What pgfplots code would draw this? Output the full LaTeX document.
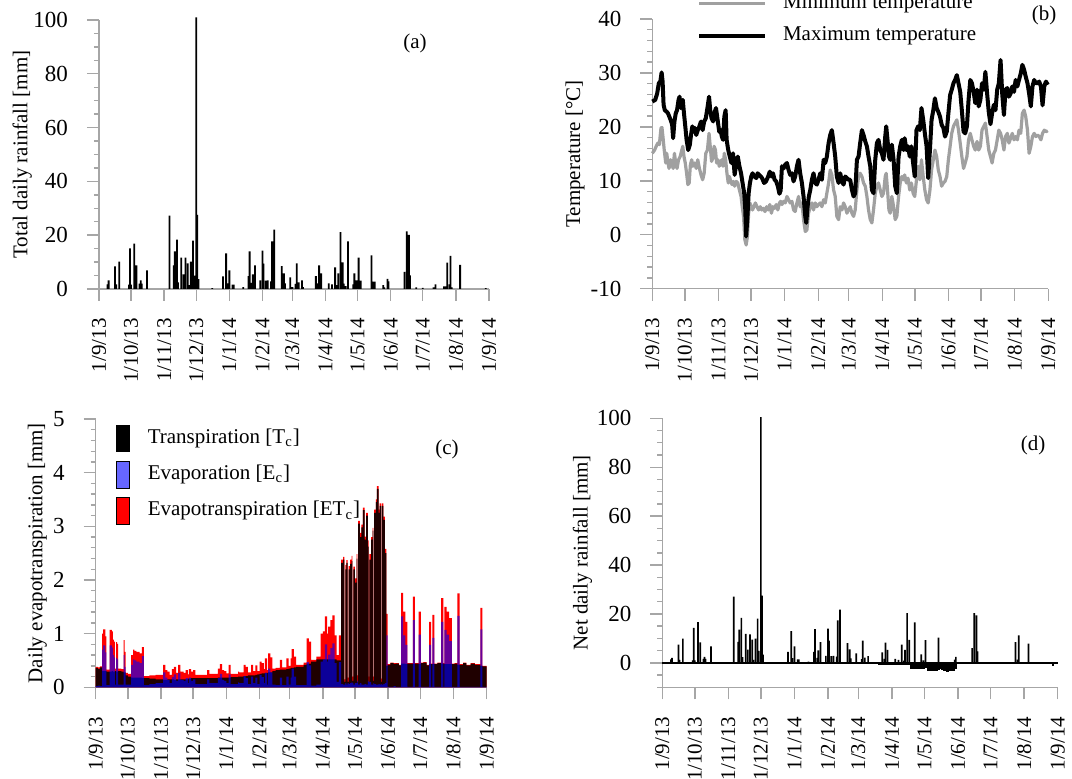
\documentclass[border=0pt]{standalone}
\usepackage{pgfplots}
\pgfplotsset{compat=1.18}
\usepackage{pgfplotstable}
\usepackage{fontspec}
\setmainfont{Liberation Serif}
\definecolor{axgray}{RGB}{166,166,166}
\definecolor{mingray}{RGB}{160,160,160}
\newcommand{\fs}{\fontsize{10.5}{12.6}\selectfont}
\newcommand{\fsb}{\fontsize{11.5}{13.8}\selectfont}

\pgfplotstableread{
d T E ET
0 .36 .02 .38
2 .34 .03 .37
4 .37 .02 .39
6 .30 .70 1.00
7 .30 .78 1.08
9 .30 .65 .95
10 .29 .04 .33
12 .29 .04 .33
13 .29 .78 1.07
15 .30 .74 1.04
16 .29 .60 .89
17 .29 .56 .85
18 .30 .05 .35
19 .29 .55 .84
20 .29 .52 .81
21 .30 .05 .35
24 .29 .05 .34
26 .28 .60 .88
27 .28 .38 .66
28 .22 .05 .27
30 .20 .05 .25
33 .18 .42 .60
35 .18 .52 .70
36 .18 .50 .68
38 .18 .48 .66
41 .18 .45 .63
43 .17 .58 .75
45 .17 .04 .21
50 .16 .06 .22
56 .15 .08 .23
63 .14 .28 .42
65 .14 .18 .32
67 .15 .14 .29
69 .15 .08 .23
71 .15 .19 .34
73 .14 .24 .38
75 .15 .12 .27
77 .15 .27 .42
79 .15 .14 .29
82 .15 .12 .27
84 .15 .17 .32
86 .16 .08 .24
87 .16 .18 .34
89 .17 .12 .29
91 .17 .15 .32
93 .17 .06 .23
104 .17 .15 .32
106 .17 .08 .25
114 .18 .17 .35
116 .18 .25 .43
118 .18 .14 .32
120 .18 .12 .30
122 .18 .08 .26
124 .18 .24 .42
126 .19 .06 .25
133 .20 .09 .29
134 .20 .08 .28
138 .21 .21 .42
140 .21 .17 .38
142 .22 .06 .28
145 .22 .20 .42
147 .22 .08 .30
149 .23 .18 .41
151 .24 .06 .30
153 .25 .23 .48
155 .26 .19 .45
157 .26 .08 .34
158 .27 .27 .54
160 .27 .05 .32
161 .28 .35 .63
163 .28 .28 .56
165 .30 .05 .35
168 .32 .04 .36
172 .33 .18 .51
174 .33 .04 .37
178 .34 .20 .54
180 .35 .05 .40
182 .36 .18 .54
183 .36 .35 .71
185 .37 .20 .57
187 .38 .04 .42
194 .42 .04 .46
197 .44 .47 .91
199 .44 .41 .85
201 .48 .03 .51
206 .52 .05 .57
210 .52 .48 1.00
212 .52 .52 1.04
214 .52 .80 1.32
216 .52 .48 1.00
217 .52 .61 1.13
219 .52 .73 1.25
221 .52 .82 1.34
223 .52 .45 .97
225 .50 .10 .60
227 .50 .47 .97
229 2.32 .06 2.38
231 2.38 .05 2.43
232.2 .10 .05 .15
233 2.20 .08 2.28
234 2.32 .05 2.37
235.2 .10 .08 .18
236 2.20 .06 2.26
237.5 2.30 .08 2.38
239 2.35 .10 2.45
239.7 .12 .08 .20
240.5 2.20 .05 2.25
242 1.95 .08 2.03
243.5 2.40 .08 2.48
244.2 .10 .12 .22
245 3.05 .05 3.10
246.5 2.80 .08 2.88
248 2.98 .05 3.03
249.5 3.30 .05 3.35
251 2.75 .06 2.81
252.5 3.20 .05 3.25
254 2.62 .12 2.74
254.7 .10 .10 .20
255.5 2.38 .10 2.48
257 2.75 .05 2.80
258.5 2.92 .05 2.97
259.2 .12 .08 .20
260 3.25 .06 3.31
261.5 3.45 .05 3.50
262.5 3.70 .05 3.75
264 3.25 .06 3.31
265 3.38 .05 3.43
266.2 .10 .06 .16
267 3.38 .05 3.43
268.5 3.12 .06 3.18
270 2.50 .08 2.58
271.3 .40 .97 1.37
272.5 .42 .01 .43
275 .45 .01 .46
278 .43 .02 .45
280 .44 .01 .45
283 .41 .01 .42
285 .44 1.32 1.76
287 .44 .97 1.41
289 .43 .79 1.22
291 .44 .01 .45
296 .44 1.25 1.69
298 .44 .01 .45
301.5 .43 .98 1.41
303.5 .45 .01 .46
306 .46 .01 .47
309 .41 .01 .42
311.3 .43 .79 1.22
313.2 .43 .01 .44
314.3 .43 .92 1.35
316.2 .43 .01 .44
319 .45 .01 .46
322.5 .44 1.22 1.66
324.5 .44 .01 .45
325.5 .43 1.07 1.50
327.7 .43 .98 1.41
330 .43 .86 1.29
332.5 .43 .01 .44
335 .44 .01 .45
337.7 .42 1.33 1.75
339.8 .42 .01 .43
343 .45 .01 .46
346 .41 .01 .42
350 .44 .01 .45
354 .42 .01 .43
359 .40 1.08 1.48
361 .39 .01 .40
365 .38 .01 .39
}\etdata

\pgfplotsset{
 panel/.style={
  scale only axis, anchor=south west,
  axis lines=left,
  axis line style={axgray, line width=0.7pt, -},
  tick style={axgray, line width=0.7pt},
  tick align=outside,
  major tick length=6pt, minor tick length=2.5pt,
  xmin=0, xmax=365,
  xtick={0,30,61,91,122,153,181,212,242,273,303,334,365},
  xticklabels={1/9/13,1/10/13,1/11/13,1/12/13,1/1/14,1/2/14,1/3/14,1/4/14,1/5/14,1/6/14,1/7/14,1/8/14,1/9/14},
  xticklabel style={yshift=-8.5pt, rotate=90, anchor=east, inner sep=0pt, font=\fs},
  yticklabel style={xshift=-9.3pt, anchor=east, inner sep=0pt, font=\fsb},
  /pgf/number format/assume math mode=true,
  label style={font=\fs},
  ylabel style={anchor=center},
  clip=false,
 }
}

\begin{document}
\begin{tikzpicture}
% ---------------- (a)
\begin{axis}[panel, at={(49.5pt,244.5pt)}, width=195pt, height=134.5pt,
  ymin=0, ymax=100, ytick={0,20,...,100}, minor ytick={0,5,...,100},
  ylabel={Total daily rainfall [mm]},
  ylabel style={at={(axis description cs:-0.197,0.5)}}]
\addplot[ybar, bar width=1.7, fill=black, draw=none] coordinates {
(8,1.7) (9,3.2) (15,8.4) (16,1.7) (19,10.2) (28,1.6) (29,15.1) (30,1.6)
(33,16.9) (35,8.8) (38,2.0) (39,3.2) (40,2.0) (45,6.9) (66,27.3) (70,8.8)
(71,14.0) (73,18.4) (74,2.5) (77,11.7) (79,5.4) (81,11.7) (83,9.5) (84,1.4)
(86,10.2) (88,18.0) (89,5.0) (91,101) (92,27.6) (93,3.7) (106,0.3) (116,4.7)
(119,13.2) (120,2.1) (122,6.9) (125,1.6) (126,1.6) (135,0.7) (140,4.8) (141,14.0)
(143,2.3) (144,5.4) (146,8.8) (151,3.2) (153,14.3) (154,9.4) (156,3.1) (158,3.2)
(161,2.8) (162,17.7) (164,22.1) (171,8.5) (173,5.8) (174,2.1) (179,4.3) (181,0.7)
(184,1.9) (185,9.5) (187,2.5) (190,3.2) (191,0.7) (203,4.8) (205,2.1) (206,8.8)
(208,5.8) (215,2.1) (218,1.7) (221,8.0) (223,1.4) (224,5.8) (226,21.1) (228,9.9)
(229,2.0) (231,1.1) (233,17.7) (238,1.7) (239,5.8) (241,3.2) (243,11.7) (245,3.1)
(255,12.5) (257,2.7) (258,2.7) (266,1.4) (267,0.6) (270,3.8) (271,2.8) (286,6.4)
(288,21.4) (290,20.1) (291,5.1) (297,0.6) (303,0.4) (313,0.6) (315,1.7) (323,1.0)
(324,1.0) (326,9.8) (328,1.7) (329,12.3) (330,0.6) (338,9.0) (362,0.3)
};
\end{axis}
% ---------------- (b)
\begin{axis}[panel, at={(326.15pt,244.65pt)}, width=198pt, height=134.85pt,
  ymin=-10, ymax=40, ytick={-10,0,...,40}, minor ytick={-10,-8,...,40},
  ylabel={Temperature [°C]},
  ylabel style={at={(axis description cs:-0.195,0.5)}},
  legend image code/.code={\draw[#1] (0pt,0pt) -- (33pt,0pt);},
  legend style={draw=none, fill=none, at={(axis description cs:0.113,1.092)}, anchor=north west,
    inner sep=0pt, outer sep=0pt, row sep=7.2pt, column sep=8pt,
    nodes={inner sep=0pt, text height=7pt, text depth=2pt, font=\fs}},
  legend cell align=left]
\addplot[mingray, line width=1.6pt, line join=round] coordinates {
(0,15.1) (2.1,15.7) (3.6,16.4) (5.1,17) (6.5,16.7) (8,19.8) (8.9,19.9) (9.8,18.2) (11,15.7) (12.4,13.3)
(13.3,15.1) (14.5,13.3) (15.4,12.3) (16.9,13.9) (18.3,13) (19.2,12.3) (20.4,15.1) (21.6,13.3) (22.8,12.3)
(24.2,13.9) (25.7,14.5) (27.2,15.7) (28.1,16.4) (29.2,14.5) (30.4,13.3) (31.6,11.4) (32.8,9.3) (34,9.6)
(35.1,13) (36.3,13.9) (37.5,12.7) (39,13.3) (40.5,12.3) (41.9,13.9) (43.4,12.3) (44.9,11.1) (46.4,10.2)
(47.8,11.4) (49.3,15.1) (50.8,15.7) (52.3,18.8) (53.4,16.4) (54.6,13.6) (55.8,14.2) (57,16.4) (58.2,15.7)
(59.3,13.3) (60.5,13.9) (61.7,12.7) (62.9,13.3) (64.1,13.9) (65.2,12.7) (66.4,15.1) (67.6,13.9) (68.8,11.4)
(70,9.6) (71.1,10.8) (72.3,9.9) (73.5,9.3) (74.7,9.9) (75.9,9) (77.3,9.9) (78.8,9.6) (80.3,8.3) (81.8,7.1)
(82.9,5.2) (84.1,3.4) (85.3,-0.9) (86.5,-1.9) (87.7,-0.3) (88.8,4) (90,5.9) (91.2,5.2) (92.4,4.6) (93.6,5.2)
(95,5.9) (96.5,5.2) (98,4.6) (99.5,5.2) (100.9,4.6) (102.4,4.9) (103.9,4.3) (105.4,5.2) (106.8,4.6)
(108.3,5.6) (109.8,4) (111.2,5.2) (112.7,4.9) (114.2,5.6) (115.7,4.6) (117.2,5.9) (118.3,6.2)
(119.5,5.6) (121,6.2) (122.5,5.9) (124.1,7.1) (125.6,6.5) (127.1,5.9) (128.7,6.2) (130.2,4.6) (131.7,4.3)
(133.3,5.9) (134.8,7.1) (136.3,5.2) (137.9,5.9) (139.4,2.8) (141,0.6) (142.5,0.9) (144,4) (145.6,5.2)
(147.1,5.9) (148.6,4.6) (150.2,5.9) (151.7,5.2) (153.2,5.6) (154.8,5.9) (156.3,5.2) (157.9,6.5) (159.4,5.9)
(160.9,7.7) (162.5,9.6) (164,12) (165.5,11.1) (167.1,8.3) (168.6,7.1) (170.1,3.4) (171.7,2.8) (173.2,5.2)
(174.8,4.6) (176.3,5.9) (177.8,5.2) (179.4,4) (180.9,4.6) (182.4,5.2) (184,4) (185.5,3.4) (187,4.6)
(188.6,8.3) (190.1,10.8) (191.6,11.4) (193.2,10.8) (194.7,9.6) (196.3,9) (197.8,7.1) (199.3,4.6) (200.9,2.8)
(202.4,2.2) (203.9,4.6) (205.5,7.7) (207,9) (208.5,9.6) (210.1,8.3) (211.6,7.1) (213.1,7.7) (214.7,10.8)
(215.6,11.4) (216.8,8.3) (218.1,4.6) (219.3,4) (220.8,7.1) (222.4,5.2) (223.9,2.8) (225.4,3.4) (227,7.1)
(228.5,9.6) (230,10.8) (231.6,10.2)
(232.6,11.1) (234.2,9.6) (235.7,10.5) (237.3,8.3) (238.8,9.6) (240.4,7.7) (241.9,7.1) (243.5,10.2) (245,12.7)
(246.6,10.2) (248.1,13.9) (249.7,10.8) (251.2,8.3) (252.8,6.5) (254.3,5.9) (255.9,8.3) (257.4,12) (259,13.9)
(260.5,15.7) (262.1,14.5) (263.6,12) (265.2,10.8) (266.7,9) (268.3,9.6) (269.8,9.9) (271.4,10.8) (272.9,13.9)
(274.5,16.4) (276,18.8) (277.6,20.1) (279.1,20.7) (280.7,21.3) (282.2,19.4) (283.8,17) (285.3,14.5) (286.9,12.3)
(288.4,13.3) (290,14.5) (291.5,17.6) (293.1,18.8) (294.6,17.6) (296.2,16.4) (297.7,15.7) (299.3,17.3)
(300.8,15.7) (302.4,16.4) (303.9,19.4) (305.5,20.1) (307,20.7) (308.6,18.2) (310.1,15.7) (311.7,14.5)
(313.2,13.3) (314.8,15.1) (316.3,15.7) (317.9,17.6) (319.4,19.4) (321,18.8) (322.5,17.6) (324.1,15.7)
(325.6,18.2) (327.2,18.8) (328.7,17) (330.3,17.9) (331.8,18.8) (333.4,17.6) (334.9,18.2) (336.5,17.6)
(338,19.4) (339.6,18.8) (341.1,22.5) (342.7,23.1) (344.2,21.9) (345.8,19.4) (347.3,15.1) (348.9,16.4)
(350.4,18.2) (352,18.8) (353.5,18.2) (355.1,18.5) (356.6,18.2) (358.2,17.6) (359.7,18.8) (361.3,19.4)
(362.8,19.1) (364.5,19.3)
};
\addlegendentry{Minimum temperature}
\addplot[black, line width=2pt, line join=round] coordinates {
(0,24.7) (2.7,25) (4.5,26.2) (6,28.1) (7.4,28.4) (8.6,30.1) (9.5,28.4) (10.4,24.1) (11.5,23.1) (13.3,22.8)
(14.5,22.5) (15.7,21.9) (16.9,21.3) (18.3,20.4) (19.2,17.9) (20.4,21) (21.6,22.5) (22.8,23.1) (24.2,25)
(25.1,25.6) (26.3,23.5) (27.2,24.1) (28.1,25) (29.2,22.5) (30.4,20.1) (31.6,17.6) (33.1,15.7) (34.6,16.7)
(35.7,18.5) (36.9,20.1) (38.1,19.1) (39.3,19.8) (40.5,18.5) (41.9,19.4) (43.4,20.1) (44.9,21) (46.4,19.4)
(47.8,21) (49.3,21.6) (50.8,23.5) (52.3,25.6) (53.4,23.1) (54.6,21.6) (56.1,21) (57.6,22.8) (58.7,23.5)
(60.2,21.3) (61.7,19.1) (62.9,19.4) (64.1,18.2) (65.2,17.6) (66.4,21.9) (67.6,23.1) (68.5,17.6) (70,15.7)
(71.4,14.5) (72.9,13.3) (74.4,15.1) (75.9,11.1) (77.3,13) (78.8,14.5) (80.3,12.7) (81.8,11.4) (83.2,9.6)
(84.7,7.7) (85.6,5.2) (86.5,-0.3) (87.7,3.4) (88.8,7.7) (90,9.6) (91.2,10.8) (92.4,11.4) (94.1,10.8)
(95.9,10.5) (97.1,11.4) (98.6,11.1) (100,10.8) (101.2,10.5) (103,9.6) (104.8,9.9) (106.8,10.8) (108.3,11.7)
(109.8,10.8) (111.2,11.4) (112.7,10.2) (114.2,9.9) (115.7,9) (117.2,7.6) (118.3,8.2)
(119.5,12.7) (121,12.3) (122.5,13) (124.1,13.3) (125.6,12) (127.1,11.1) (128.7,11.4) (130.2,9.9) (131.7,10.8)
(133.3,12.7) (134.8,13.9) (136.3,11.4) (137.9,9.6) (139.4,7.1) (141,3.4) (141.9,2.2) (143.1,5.2) (144.3,7.1)
(145.6,8.3) (147.1,10.2) (148.6,11.4) (150.2,9.6) (151.7,9.3) (153.2,10.2) (154.8,11.4) (156.3,10.2)
(157.9,13.9) (159.4,13.3) (160.9,14.5) (162.5,17) (164,18.5) (165.5,19.4) (167.1,17) (168.6,14.5) (170.1,10.8)
(171.7,9.6) (173.2,11.4) (174.8,9.9) (176.3,9.3) (177.8,10.8) (179.4,10.5) (180.9,10.2) (182.4,10.2) (184,8.3)
(185.5,7.1) (187,7.7) (188.6,13.9) (190.1,14.5) (191.6,17) (193.2,19.4) (194.7,18.5) (196.3,17.3) (197.8,16.4)
(199.3,14.5) (200.9,12.7) (202.4,8.3) (203.9,7.7) (205.5,13.9) (207,17) (208.5,17.6) (210.1,15.7) (211.6,15.1)
(213.1,13.9) (214.7,18.2) (215.6,20.1) (216.8,17.6) (218.1,14.5) (219.3,13.9) (220.8,16.7) (222.4,13.9) (223.9,9)
(225.4,7.7) (227,14.5) (228.5,16.4) (230,17.6) (231.6,15.7)
(232.6,17.9) (234.2,15.7) (235.7,16.4) (237.3,14.5) (238.8,16.4) (240.4,13.3) (241.9,10.8) (243.5,19.4) (245,20.1)
(246.6,19.4) (248.1,23.5) (249.7,21.3) (251.2,18.8) (252.8,16.4) (254.3,10.5) (255.9,15.7) (257.4,21.3) (259,23.1)
(260.5,25.3) (262.1,23.5) (263.6,22.8) (265.2,21.9) (266.7,20.4) (268.3,19.8) (269.8,18.2) (271.4,19.1) (272.9,22.5)
(274.5,25.9) (276,26.9) (277.6,28.1) (279.1,28.7) (280.7,29.6) (282.2,28.1) (283.8,26.5) (285.3,23.1) (286.9,19.1)
(288.4,18.8) (290,20.1) (291.5,25) (293.1,28.7) (294.6,28.1) (296.2,26.5) (297.7,24.4) (299.3,26.9) (300.8,23.8)
(302.4,25) (303.9,28.1) (305.5,26.9) (307,30.2) (308.6,26.2) (310.1,22.8) (311.7,20.5) (313.2,22.5) (314.8,24.1)
(316.3,23.1) (317.9,26.9) (319.4,28.1) (321,32.4) (322.5,26.2) (324.1,22.2) (325.6,26.9) (327.2,27.2) (328.7,25.6)
(330.3,26.2) (331.8,27.5) (333.4,26.5) (334.9,28.7) (336.5,27.5) (338,28.7) (339.6,29.9) (341.1,31.5) (342.7,30.6)
(344.2,29.3) (345.8,28.1) (347.3,26.2) (348.9,23.8) (350.4,27.5) (352,28.7) (353.5,28.1) (355.1,28.1) (356.6,28.4)
(358.2,27.5) (359.7,24) (361.3,27.5) (362.8,28.4) (364.5,27.8)
};
\addlegendentry{Maximum temperature}
\end{axis}
% ---------------- (c)
\begin{axis}[panel, at={(47.85pt,45.35pt)}, width=195.5pt, height=134.15pt,
  ymin=0, ymax=5, ytick={0,1,...,5}, minor ytick={0,0.2,...,5},
  ylabel={Daily evapotranspiration [mm]},
  ylabel style={at={(axis description cs:-0.149,0.5)}},
  legend image code/.code={\fill[#1] (0pt,-6.65pt) rectangle (6.65pt,6.65pt);},
  legend style={draw=none, fill=none, at={(axis description cs:0.052,0.979)}, anchor=north west,
    inner sep=0pt, outer sep=0pt, row sep=4.45pt, column sep=8.85pt,
    nodes={inner sep=0pt, text height=7pt, text depth=2pt, font=\fs}},
  legend cell align=left]
\addlegendimage{fill=black}
\addlegendentry{Transpiration [T\textsubscript{c}]}
\addlegendimage{fill=blue, fill opacity=0.6}
\addlegendentry{Evaporation [E\textsubscript{c}]}
\addlegendimage{fill=red}
\addlegendentry{Evapotranspiration [ET\textsubscript{c}]}
\addplot[forget plot, const plot, fill=red, draw=none] table[x=d, y=ET] {\etdata} \closedcycle;
\addplot[forget plot, const plot, fill=black, fill opacity=0.88, draw=none] table[x=d, y=T] {\etdata} \closedcycle;
\addplot[forget plot, const plot, fill=blue, fill opacity=0.6, draw=none] table[x=d, y=E] {\etdata} \closedcycle;
\end{axis}
% ---------------- (d)
\begin{axis}[panel, at={(331.15pt,45.35pt)}, width=197.7pt, height=134.5pt,
  ymin=-10, ymax=100, ytick={0,20,...,100}, minor ytick={-10,-5,...,100},
  ylabel={Net daily rainfall [mm]},
  ylabel style={at={(axis description cs:-0.202,0.5)}}]
\addplot[const plot, fill=black, draw=black, line width=0.5pt] coordinates {
(0,-0.35) (28,-0.22) (45,-0.18) (60,-0.15) (122,-0.2) (150,-0.25) (180,-0.38) (200,-0.5) (210,-0.5)
(229,-2.3) (233,-2.2) (236,-2.2) (239,-2.3) (242,-1.9) (245,-3.0) (249,-3.2) (254,-2.6) (256,-2.4)
(258,-2.9) (260,-3.3) (262,-3.6) (264,-3.3) (268,-3.1) (270,-2.5) (271.3,-0.45) (300,-0.44) (340,-0.42)
(360,-1.2) (361,-0.38) (365,-0.38)
} \closedcycle;
\addplot[ybar, bar width=1.5, fill=black, draw=none] coordinates {
(8,1.4) (9,2.0) (15,7.5) (16,1.2) (19,9.9) (28,1.0) (29,14.3) (30,1.0) (33,16.7) (35,8.4) (38,1.6)
(39,2.4) (40,1.6) (45,6.7) (66,27.1) (70,8.6) (71,13.6) (73,18.4) (74,2.3) (77,11.8) (79,5.4) (81,11.6)
(83,9.5) (84,1.2) (86,9.9) (88,18.1) (89,4.9) (91,100.5) (92,27.5) (93,3.4) (116,4.5) (119,13.0) (120,1.9)
(122,6.7) (125,1.4) (126,1.4) (135,0.5) (140,4.5) (141,13.8) (143,2.0) (144,5.1) (146,8.5) (151,2.9)
(153,14.0) (154,9.1) (156,2.8) (158,2.9) (161,2.5) (162,17.4) (164,21.8) (171,8.1) (173,5.5) (174,1.8)
(179,3.9) (184,1.5) (185,9.1) (187,2.1) (190,2.8) (203,4.3) (205,1.6) (206,8.3) (208,5.3) (215,1.6)
(218,1.2) (221,7.5) (223,0.9) (224,5.3) (226,20.3) (228,9.4) (233,16.5) (239,3.5) (241,1.0) (243,9.3)
(255,10.3) (270,1.3) (271,2.4) (286,6.0) (288,20.3) (290,19.4) (291,4.7) (326,8.5) (328,1.3) (329,11.2)
(338,7.9)
};
\end{axis}
% panel letters
\node[font=\fs] at (207.5pt,367.5pt) {(a)};
\node[font=\fs] at (522pt,381.5pt) {(b)};
\node[font=\fs] at (223.5pt,164.5pt) {(c)};
\node[font=\fs] at (516.5pt,166.5pt) {(d)};
\pgfresetboundingbox
\useasboundingbox (0pt,0pt) rectangle (536pt,389pt);
\end{tikzpicture}
\end{document}
